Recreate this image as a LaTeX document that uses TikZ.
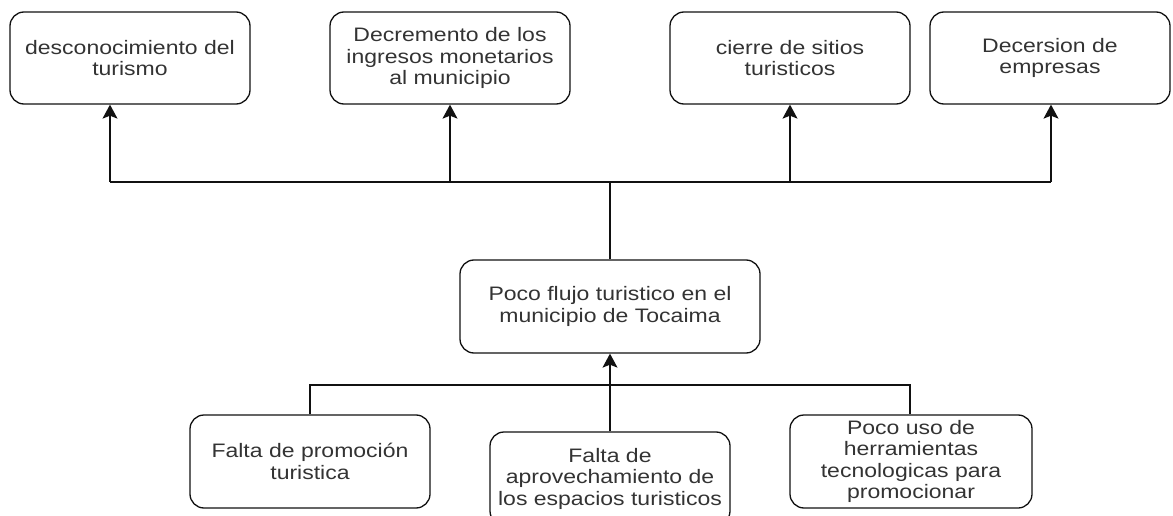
\documentclass[tikz,border=0pt]{standalone}
\usepackage{fontspec}
\setmainfont{Liberation Sans}[FakeStretch=1.18]
\usetikzlibrary{arrows.meta}
\definecolor{txt}{HTML}{333333}
\definecolor{ln}{HTML}{111111}
\begin{document}
\begin{tikzpicture}[x=1pt,y=-1pt,
  box/.style={draw=ln, line width=1.3pt, rounded corners=14pt, minimum width=240pt, minimum height=92pt,
    inner sep=0pt, align=center, text=txt, font=\fontsize{19.5pt}{21.5pt}\selectfont},
  conn/.style={draw=ln, line width=1.3pt},
  arr/.style={conn, -{Stealth[length=14pt,width=15pt,inset=3pt]}}]
\useasboundingbox (0,0) rectangle (1173,516);
\clip (0,0) rectangle (1173,516);
% top effects
\node[box] (d1) at (130,58) {desconocimiento del\\turismo};
\node[box] (d2) at (450,58) {Decremento de los\\ingresos monetarios\\al municipio};
\node[box] (d3) at (790,58) {cierre de sitios\\turisticos};
\node[box] (d4) at (1050,58) {Decersion de\\empresas};
% central problem
\node[box, minimum width=300pt, minimum height=93pt] (c) at (610,306.5) {Poco flujo turistico en el\\municipio de Tocaima};
% causes
\node[box, minimum width=240pt, minimum height=93pt] (k1) at (310,461.5) {Falta de promoción\\turistica};
\node[box, minimum width=240pt, minimum height=93pt] (k2) at (610,478.5) {Falta de\\aprovechamiento de\\los espacios turisticos};
\node[box, minimum width=242pt, minimum height=93pt] (k3) at (911,461.5) {Poco uso de\\herramientas\\tecnologicas para\\promocionar};
% upper connectors
\coordinate (t1) at (110,182);
\coordinate (t2) at (450,182);
\coordinate (t3) at (790,182);
\coordinate (t4) at (1051,182);
\coordinate (tc) at (610,182);
\draw[conn] (c.north) -- (tc);
\draw[conn] (t1) -- (t4);
\draw[arr] (t1) -- (t1 |- d1.south);
\draw[arr] (t2) -- (t2 |- d2.south);
\draw[arr] (t3) -- (t3 |- d3.south);
\draw[arr] (t4) -- (t4 |- d4.south);
% lower connectors
\coordinate (b1) at (310,385);
\coordinate (b3) at (910,385);
\draw[conn] (k1.north) -- (b1) -- (b3) -- (b3 |- k3.north);
\draw[arr] (k2.north) -- (c.south);
\end{tikzpicture}
\end{document}
